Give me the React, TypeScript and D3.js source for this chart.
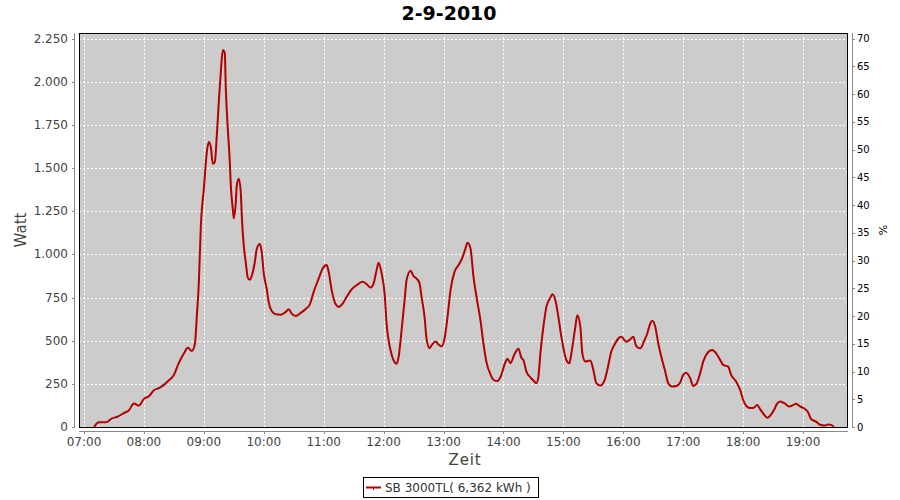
import React from "react";
import * as d3 from "d3";

const times: string[] = [
  "07:10","07:15","07:22","07:28","07:33","07:40","07:45","07:50","07:55","08:00",
  "08:05","08:10","08:15","08:20","08:25","08:30","08:35","08:40","08:44","08:48",
  "08:51","08:53","08:55","08:57","09:00","09:03","09:05","09:07","09:09","09:11",
  "09:13","09:15","09:17","09:19","09:21","09:22","09:24","09:26","09:27","09:29",
  "09:30","09:32","09:33","09:35","09:37","09:38","09:40","09:42","09:44","09:46",
  "09:48","09:51","09:53","09:56","09:58","10:00","10:03","10:05","10:08","10:12",
  "10:17","10:22","10:25","10:28","10:32","10:37","10:42","10:46","10:50","10:55",
  "10:59","11:03","11:05","11:08","11:12","11:15","11:19","11:23","11:28","11:33",
  "11:39","11:43","11:47","11:50","11:53","11:55","11:58","12:01","12:03","12:07",
  "12:10","12:13","12:15","12:18","12:21","12:23","12:27","12:30","12:33","12:36",
  "12:38","12:41","12:43","12:46","12:48","12:52","12:55","12:58","13:01","13:04",
  "13:07","13:11","13:15","13:19","13:22","13:24","13:27","13:30","13:33","13:37",
  "13:40","13:43","13:47","13:50","13:54","13:57","14:02","14:04","14:07","14:11",
  "14:15","14:18","14:20","14:23","14:27","14:30","14:33","14:35","14:37","14:40",
  "14:43","14:47","14:49","14:52","14:55","14:58","15:03","15:06","15:08","15:12",
  "15:14","15:17","15:19","15:22","15:27","15:30","15:33","15:37","15:41","15:44",
  "15:48","15:52","15:55","15:58","16:03","16:07","16:10","16:13","16:17","16:21",
  "16:24","16:27","16:29","16:32","16:35","16:38","16:42","16:45","16:49","16:53",
  "16:57","17:00","17:03","17:07","17:10","17:13","17:17","17:20","17:24","17:29",
  "17:33","17:37","17:40","17:45","17:48","17:53","17:57","18:00","18:03","18:07",
  "18:10","18:14","18:17","18:21","18:24","18:27","18:31","18:34","18:37","18:42",
  "18:46","18:50","18:53","18:57","19:01","19:05","19:08","19:13","19:17","19:22",
  "19:25","19:28","19:31"
];

const watts: number[] = [
  0,27,27,50,58,81,97,136,124,163,
  178,213,225,244,271,302,372,426,459,440,
  479,643,837,1167,1380,1593,1651,1622,1525,1535,
  1690,1884,2058,2184,2165,1961,1729,1535,1399,1264,
  1209,1302,1399,1438,1360,1225,1050,953,866,853,
  876,953,1031,1060,1012,890,798,721,672,653,
  651,667,682,657,643,661,684,709,783,860,
  919,938,899,793,711,696,715,754,797,822,
  841,828,808,832,909,952,890,773,599,444,
  386,366,405,560,734,851,905,874,860,832,
  754,638,512,457,473,496,477,467,512,638,
  793,899,938,983,1035,1068,1035,870,754,618,
  483,376,305,274,266,289,376,396,370,421,
  454,401,388,321,288,269,254,292,427,581,
  696,750,769,735,638,523,388,369,427,581,
  648,581,427,379,385,331,254,240,267,331,
  437,485,513,523,494,508,523,469,456,500,
  542,600,615,581,485,408,321,254,235,238,
  258,302,315,283,238,248,312,379,427,446,
  427,388,360,350,302,263,215,158,123,110,
  110,127,104,71,54,65,100,135,148,135,
  119,127,135,119,108,85,46,31,13,8,
  15,12,0
];

const xTickLabels: string[] = ["07:00","08:00","09:00","10:00","11:00","12:00","13:00","14:00","15:00","16:00","17:00","18:00","19:00"];
const leftTicks: number[] = [0,250,500,750,1000,1250,1500,1750,2000,2250];
const rightTicks: number[] = [0,5,10,15,20,25,30,35,40,45,50,55,60,65,70];

const title = "2-9-2010";
const seriesName = "SB 3000TL( 6,362 kWh )";

const W = 900, H = 500;
const L = 79, R = 848, T = 33, B = 427;
const FONT = "'DejaVu Sans', sans-serif";
const LINE_COLOR = "#b40000";

const parseT = (s: string) => d3.timeParse("%Y-%m-%d %H:%M")("2010-09-02 " + s) as Date;

const locale = d3.formatLocale({ decimal: ",", thousands: ".", grouping: [3], currency: ["", ""] });
const fmtW = locale.format(",d");

export default function App() {
  const x = d3.scaleTime()
    .domain([d3.timeMinute.offset(parseT("07:00"), -4.3), parseT("19:45")])
    .range([L, R]);
  const y = d3.scaleLinear().domain([0, 2283]).range([B, T]);
  const yR = d3.scaleLinear().domain([0, 2283 * 70 / 2250]).range([B, T]);

  const data = times.map((t, i) => ({ t: parseT(t), v: watts[i] }));
  const line = d3.line<{ t: Date; v: number }>()
    .x(d => x(d.t))
    .y(d => y(d.v))
    .curve(d3.curveMonotoneX);

  const xTicks = xTickLabels.map(s => parseT(s));

  return (
    <svg width={W} height={H} style={{ display: "block", position: "absolute", left: 0, top: 0 }} fontFamily={FONT}>
      <rect x={0} y={0} width={W} height={H} fill="#ffffff" />
      <text x={449} y={19.5} textAnchor="middle" fontSize={19} fontWeight="bold" fill="#000">{title}</text>

      <rect x={L} y={T} width={R - L} height={B - T} fill="#cccccc" />
      {xTicks.map((t, i) => (
        <line key={"gx" + i} x1={Math.round(x(t)) + 0.5} x2={Math.round(x(t)) + 0.5} y1={T} y2={B}
          stroke="#fff" strokeDasharray="2,2" strokeWidth={1} />
      ))}
      {leftTicks.map((v, i) => (
        <line key={"gy" + i} x1={L} x2={R} y1={Math.round(y(v)) + 0.5} y2={Math.round(y(v)) + 0.5}
          stroke="#fff" strokeDasharray="2,2" strokeWidth={1} />
      ))}
      <path d={line(data) || ""} fill="none" stroke={LINE_COLOR} strokeWidth={2} strokeLinejoin="round" />
      <rect x={L + 0.5} y={T + 0.5} width={R - L - 1} height={B - T} fill="none" stroke="#000" strokeWidth={1} />

      {/* left axis */}
      <line x1={74.5} x2={74.5} y1={T} y2={B + 1} stroke="#888" />
      {leftTicks.map((v, i) => (
        <g key={"lt" + i}>
          <line x1={72} x2={74.5} y1={Math.round(y(v)) + 0.5} y2={Math.round(y(v)) + 0.5} stroke="#888" />
          <text x={68} y={y(v) + 4} textAnchor="end" fontSize={12} fill="#444">{fmtW(v)}</text>
        </g>
      ))}
      <text transform={`translate(25.5,${(T + B) / 2}) rotate(-90)`} textAnchor="middle" fontSize={15} fill="#444">Watt</text>

      {/* bottom axis */}
      <line x1={L} x2={R} y1={431.5} y2={431.5} stroke="#888" />
      {xTicks.map((t, i) => (
        <g key={"xt" + i}>
          <line x1={Math.round(x(t)) + 0.5} x2={Math.round(x(t)) + 0.5} y1={431.5} y2={434} stroke="#888" />
          <text x={x(t)} y={446} textAnchor="middle" fontSize={12} fill="#444">{xTickLabels[i]}</text>
        </g>
      ))}
      <text x={465} y={464.5} textAnchor="middle" fontSize={15} letterSpacing={0.8} fill="#444">Zeit</text>

      {/* right axis */}
      <line x1={852.5} x2={852.5} y1={T} y2={B + 1} stroke="#888" />
      {rightTicks.map((v, i) => (
        <g key={"rt" + i}>
          <line x1={852.5} x2={855} y1={Math.round(yR(v)) + 0.5} y2={Math.round(yR(v)) + 0.5} stroke="#888" />
          <text x={857} y={yR(v) + 3.5} textAnchor="start" fontSize={10} fill="#000">{v}</text>
        </g>
      ))}
      <text transform={`translate(887,${(T + B) / 2}) rotate(-90)`} textAnchor="middle" fontSize={11} fill="#000">%</text>

      {/* legend */}
      <rect x={363.5} y={477.5} width={175} height={20} fill="#fff" stroke="#000" />
      <line x1={366} x2={381} y1={487.5} y2={487.5} stroke={LINE_COLOR} strokeWidth={2} />
      <line x1={373.5} x2={373.5} y1={487} y2={490} stroke={LINE_COLOR} strokeWidth={1} />
      <text x={385} y={492} fontSize={12} fill="#333">{seriesName}</text>
    </svg>
  );
}
